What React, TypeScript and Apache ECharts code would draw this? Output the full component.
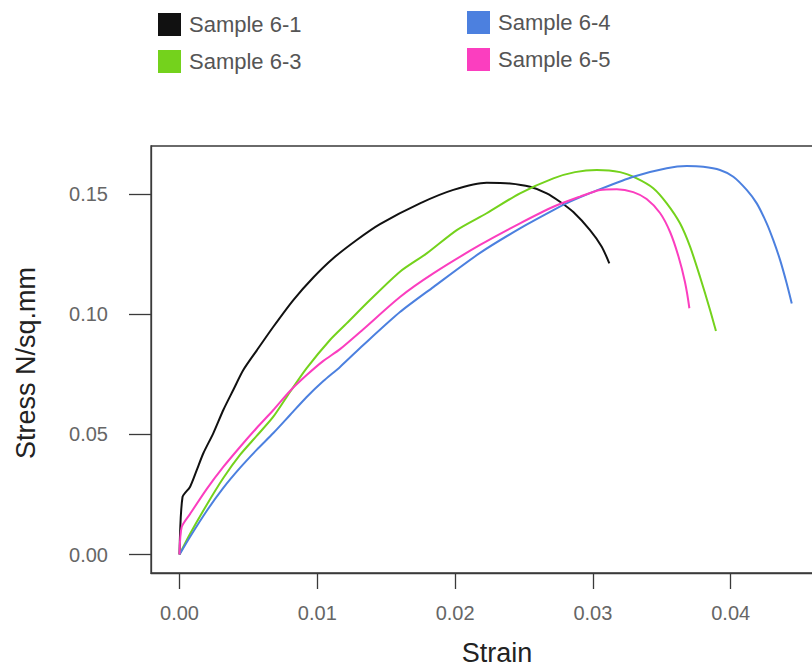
import React, { useEffect, useRef } from "react";
import * as echarts from "echarts";

const sampleNames = ["Sample 6-1", "Sample 6-3", "Sample 6-4", "Sample 6-5"];
const sampleColors = ["#111111", "#74d21c", "#4c80df", "#fb3ebf"];

const strain61 = [0, 0.00022, 0.00076, 0.00125, 0.00173, 0.00245, 0.00318, 0.0039, 0.00463, 0.0056, 0.00681, 0.00826, 0.00971, 0.01116, 0.01286, 0.01455, 0.01745, 0.01987, 0.02229, 0.02398, 0.02544, 0.02665, 0.02761, 0.02858, 0.02979, 0.03064, 0.03119];
const stress61 = [0, 0.0239, 0.0281, 0.0351, 0.0421, 0.0504, 0.0601, 0.0684, 0.0767, 0.0848, 0.0947, 0.1058, 0.1152, 0.1232, 0.1308, 0.1374, 0.146, 0.1516, 0.1546, 0.1543, 0.1529, 0.1502, 0.1467, 0.1424, 0.1349, 0.128, 0.1211];

const strain63 = [0, 0.00076, 0.00197, 0.00318, 0.00439, 0.0056, 0.00681, 0.00802, 0.00923, 0.01092, 0.01213, 0.01382, 0.016, 0.01794, 0.02012, 0.02229, 0.02471, 0.02713, 0.0287, 0.03028, 0.03197, 0.03318, 0.03438, 0.03536, 0.03632, 0.03705, 0.03777, 0.0385, 0.03893];
const stress63 = [0, 0.0085, 0.0206, 0.0318, 0.0414, 0.0493, 0.0573, 0.0676, 0.0775, 0.0892, 0.0961, 0.1058, 0.1176, 0.1252, 0.1349, 0.1419, 0.1502, 0.1564, 0.159, 0.1599, 0.159, 0.1564, 0.1523, 0.146, 0.1377, 0.128, 0.1155, 0.1017, 0.0929];

const strain64 = [0, 0.00076, 0.00197, 0.00318, 0.00439, 0.0056, 0.00681, 0.00802, 0.00923, 0.01044, 0.01165, 0.01334, 0.016, 0.01842, 0.02181, 0.02471, 0.02713, 0.02834, 0.03052, 0.03293, 0.03536, 0.03681, 0.03801, 0.03922, 0.04019, 0.04116, 0.04189, 0.04261, 0.04309, 0.04358, 0.04406, 0.04443];
const stress64 = [0, 0.0073, 0.0181, 0.0277, 0.036, 0.0435, 0.0505, 0.058, 0.0655, 0.0721, 0.078, 0.0871, 0.1008, 0.1112, 0.1254, 0.1356, 0.1432, 0.1467, 0.1519, 0.1571, 0.1606, 0.1615, 0.1612, 0.1599, 0.1571, 0.1516, 0.146, 0.1377, 0.1307, 0.1225, 0.1128, 0.1044];

const strain65 = [0, 0.00016, 0.00076, 0.00197, 0.00318, 0.00439, 0.0056, 0.00681, 0.00802, 0.00923, 0.01044, 0.01165, 0.01334, 0.016, 0.01842, 0.02181, 0.02471, 0.02713, 0.02906, 0.03052, 0.03173, 0.03293, 0.0339, 0.03487, 0.0356, 0.0362, 0.03668, 0.037];
const stress65 = [0, 0.0114, 0.0168, 0.0272, 0.0364, 0.0447, 0.0526, 0.0601, 0.068, 0.0746, 0.0805, 0.0854, 0.0937, 0.1071, 0.1169, 0.1287, 0.1377, 0.1446, 0.1488, 0.1516, 0.1519, 0.1507, 0.1478, 0.142, 0.1341, 0.1241, 0.1133, 0.1024];

const xTicks = [0, 0.01, 0.02, 0.03, 0.04];
const yTicks = [0, 0.05, 0.1, 0.15];

const strains = [strain61, strain63, strain64, strain65];
const stresses = [stress61, stress63, stress64, stress65];

const FONT = "'Liberation Sans', Arial, sans-serif";
const AXIS_COLOR = "#3a3a3a";

export default function App() {
  const ref = useRef<HTMLDivElement>(null);
  useEffect(() => {
    if (!ref.current) return;
    const chart = echarts.init(ref.current, null, { renderer: "svg" });
    const series = sampleNames.map((name, i) => ({
      name,
      type: "line",
      showSymbol: false,
      symbol: "none",
      smooth: 0.25,
      color: sampleColors[i],
      lineStyle: { width: 2, color: sampleColors[i] },
      data: strains[i].map((x, j) => [x, stresses[i][j]]),
    }));
    const legendBase = {
      orient: "vertical",
      icon: "rect",
      itemWidth: 23,
      itemHeight: 23,
      itemGap: 14,
      textStyle: { fontSize: 22, color: "#555", fontFamily: FONT, padding: [0, 0, 0, 3] },
    };
    chart.setOption({
      animation: false,
      backgroundColor: "#fff",
      legend: [
        { ...legendBase, left: 153, top: 8, data: [sampleNames[0], sampleNames[1]] },
        { ...legendBase, left: 462, top: 6, data: [sampleNames[2], sampleNames[3]] },
      ],
      grid: {
        show: true,
        left: 151,
        top: 146,
        width: 681,
        height: 427,
        outerBoundsMode: "none",
        containLabel: false,
        borderColor: AXIS_COLOR,
        borderWidth: 1.3,
        backgroundColor: "transparent",
      },
      xAxis: {
        type: "value",
        min: -0.002068,
        max: 0.04735,
        axisLine: { show: true, onZero: false, lineStyle: { color: AXIS_COLOR, width: 1.3 } },
        splitLine: { show: false },
        axisTick: { show: true, inside: false, length: 16, customValues: xTicks, lineStyle: { color: AXIS_COLOR, width: 1.3 } },
        axisLabel: {
          customValues: xTicks,
          margin: 30,
          fontSize: 20,
          color: "#666",
          fontFamily: FONT,
          formatter: (v: number) => v.toFixed(2),
        },
      },
      yAxis: {
        type: "value",
        min: -0.00769,
        max: 0.16986,
        axisLine: { show: true, onZero: false, lineStyle: { color: AXIS_COLOR, width: 1.3 } },
        splitLine: { show: false },
        axisTick: { show: true, inside: false, length: 22, customValues: yTicks, lineStyle: { color: AXIS_COLOR, width: 1.3 } },
        axisLabel: {
          customValues: yTicks,
          margin: 43,
          fontSize: 20,
          color: "#666",
          fontFamily: FONT,
          formatter: (v: number) => v.toFixed(2),
        },
      },
      graphic: [
        {
          type: "text",
          x: 497,
          y: 653,
          style: { text: "Strain", fontSize: 27, fill: "#222", fontFamily: FONT, align: "center", verticalAlign: "middle" },
        },
        {
          type: "text",
          x: 26,
          y: 363,
          rotation: Math.PI / 2,
          style: { text: "Stress N/sq.mm", fontSize: 27, fill: "#222", fontFamily: FONT, align: "center", verticalAlign: "middle" },
        },
      ],
      series,
    });
    return () => chart.dispose();
  }, []);
  return <div ref={ref} style={{ position: "fixed", left: 0, top: 0, width: 812, height: 669 }} />;
}
